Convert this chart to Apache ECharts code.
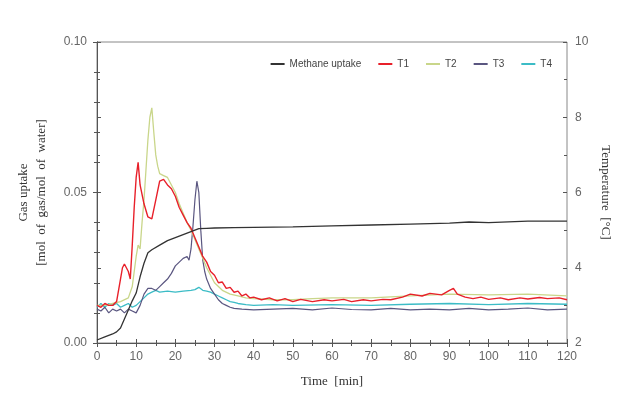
<!DOCTYPE html>
<html><head><meta charset="utf-8">
<script src="https://cdn.jsdelivr.net/npm/echarts@6/dist/echarts.min.js"></script>
<style>html,body{margin:0;padding:0;background:#fff}#c{width:621px;height:398px}</style>
</head><body><div id="c"></div>
<script>
var methaneT = [0,2,4,5,6,7,8,9,10,11,12,13,14,16,18,20,22,24,26,28,30,35,40,50,60,70,80,90,95,100,110,120];
var methaneV = [0.001,0.002,0.003,0.0037,0.005,0.008,0.011,0.014,0.0166,0.022,0.0265,0.030,0.031,0.0325,0.034,0.035,0.036,0.037,0.038,0.0381,0.0382,0.0383,0.0384,0.0386,0.0389,0.0392,0.0395,0.0398,0.0402,0.040,0.0405,0.0405];

var t1T = [0,1,2,3,4,5,6,6.5,7,7.5,8,8.5,9,9.5,10,10.5,11,11.5,12,13,14,15,16,17,18,19,20,21,22,23,24,25,26,27,28,29,30,31,32,33,34,35,36,37,38,39,40,42,44,46,48,50,52,55,58,60,63,65,68,70,73,75,78,80,83,85,88,90,91,92,94,96,98,100,103,105,108,110,113,115,118,120];
var t1V = [3.0,2.95,3.05,3.0,3.0,3.1,3.7,4.0,4.1,4.0,3.9,3.7,4.6,5.6,6.4,6.8,6.2,6.2,5.7,5.35,5.3,5.8,6.3,6.35,6.2,6.1,5.9,5.6,5.4,5.2,5.05,4.8,4.55,4.3,4.15,3.9,3.8,3.6,3.62,3.45,3.48,3.35,3.38,3.25,3.3,3.2,3.22,3.15,3.2,3.12,3.18,3.1,3.16,3.1,3.15,3.12,3.16,3.1,3.15,3.12,3.16,3.15,3.22,3.3,3.25,3.32,3.28,3.4,3.45,3.3,3.22,3.18,3.22,3.16,3.2,3.15,3.2,3.17,3.21,3.18,3.2,3.15];

var t2T = [0,2,4,6,8,9,10,10.5,11,11.5,12,12.5,13,13.5,14,14.5,15,15.5,16,17,18,19,20,21,22,23,24,25,26,27,28,29,30,32,34,36,38,40,45,50,55,60,70,80,90,100,110,120];
var t2V = [3.0,3.0,3.05,3.1,3.2,3.5,4.3,4.6,4.5,5.2,5.8,6.6,7.4,8.0,8.25,7.6,7.0,6.7,6.5,6.45,6.4,6.2,6.0,5.7,5.45,5.2,5.0,4.75,4.5,4.25,4.0,3.8,3.6,3.4,3.3,3.25,3.2,3.18,3.15,3.15,3.18,3.2,3.2,3.25,3.3,3.28,3.3,3.25];

var t3T = [0,1,2,3,4,5,6,7,8,9,10,11,12,13,14,15,16,17,18,19,20,21,22,23,23.5,24,24.5,25,25.5,26,26.5,27,27.5,28,29,30,31,32,33,34,35,37,40,45,50,55,60,65,70,75,80,85,90,95,100,105,110,115,120];
var t3V = [2.9,2.85,2.95,2.8,2.9,2.85,2.9,2.8,2.9,2.85,2.8,3.0,3.3,3.45,3.45,3.4,3.5,3.6,3.7,3.85,4.05,4.15,4.25,4.3,4.2,4.5,5.1,5.8,6.3,6.0,5.0,4.2,3.9,3.7,3.45,3.3,3.15,3.05,3.0,2.95,2.92,2.9,2.88,2.9,2.92,2.88,2.93,2.89,2.88,2.92,2.88,2.9,2.88,2.92,2.88,2.9,2.93,2.88,2.9];

var t4T = [0,1,2,3,4,5,6,7,8,9,10,11,12,13,14,15,16,18,20,22,24,25,26,27,28,29,30,31,32,33,34,35,36,38,40,45,50,60,70,80,90,100,110,120];
var t4V = [2.95,3.05,2.95,3.05,3.0,3.05,2.95,3.0,3.05,2.95,3.0,3.1,3.2,3.3,3.35,3.4,3.35,3.38,3.35,3.38,3.4,3.42,3.48,3.4,3.38,3.35,3.3,3.25,3.2,3.15,3.1,3.08,3.05,3.02,3.0,3.02,3.0,3.02,3.0,3.03,3.05,3.02,3.05,3.03];

var xTicks = {min:0, max:120, interval:10};
var leftTicks = {min:0, max:0.1, interval:0.05};
var rightTicks = {min:2, max:10, interval:2};

function pairs(t, v){ return t.map(function(x,i){ return [x, v[i]]; }); }

var chart = echarts.init(document.getElementById('c'));
var axisLineStyle = {color:'#555', width:1};
var lbl = {color:'#666', fontSize:12, fontFamily:'Liberation Sans, Arial, sans-serif'};
var nameStyle = {color:'#333', fontSize:13, fontFamily:'Liberation Serif, Times New Roman, serif'};
chart.setOption({
  animation:false,
  grid:{left:97, right:54, top:42, bottom:55, show:true, borderColor:'#888', borderWidth:1},
  legend:{
    right:64, top:54, itemWidth:14, itemHeight:2, itemGap:17, icon:'rect',
    textStyle:{color:'#444', fontSize:10, fontFamily:'Liberation Sans, Arial, sans-serif'},
    data:['Methane uptake','T1','T2','T3','T4']
  },
  xAxis:[{
    type:'value', min:xTicks.min, max:xTicks.max, interval:xTicks.interval,
    name:'Time  [min]', nameLocation:'middle', nameGap:32, nameTextStyle:nameStyle,
    axisLine:{lineStyle:axisLineStyle}, axisTick:{length:4, lineStyle:{color:'#555'}},
    minorTick:{show:true, splitNumber:2, length:3, lineStyle:{color:'#555'}},
    axisLabel:Object.assign({margin:8}, lbl), splitLine:{show:false}
  },{
    type:'value', position:'bottom', min:xTicks.min, max:xTicks.max, interval:xTicks.interval,
    axisLine:{show:false}, axisTick:{inside:true, length:4, lineStyle:{color:'#555'}},
    minorTick:{show:true, splitNumber:2, length:3, lineStyle:{color:'#555'}},
    axisLabel:{show:false}, splitLine:{show:false}
  }],
  yAxis:[{
    type:'value', position:'left', min:leftTicks.min, max:leftTicks.max, interval:leftTicks.interval,
    name:'Gas uptake\n[mol  of  gas/mol  of  water]', nameLocation:'middle', nameGap:46, nameRotate:90,
    nameTextStyle:Object.assign({lineHeight:18}, nameStyle),
    axisLine:{show:true, lineStyle:axisLineStyle}, axisTick:{show:true, length:4, lineStyle:{color:'#555'}},
    minorTick:{show:true, splitNumber:5, length:3, lineStyle:{color:'#555'}},
    axisLabel:Object.assign({margin:10, formatter:function(v){return v.toFixed(2);}}, lbl), splitLine:{show:false}
  },{
    type:'value', position:'right', min:rightTicks.min, max:rightTicks.max, interval:rightTicks.interval,
    name:'Temperature  [°C]', nameLocation:'middle', nameGap:28, nameRotate:-90, nameTextStyle:nameStyle,
    axisLine:{show:true, lineStyle:axisLineStyle}, axisTick:{show:true, length:4, lineStyle:{color:'#555'}},
    minorTick:{show:true, splitNumber:2, length:3, lineStyle:{color:'#555'}},
    axisLabel:Object.assign({margin:8}, lbl), splitLine:{show:false}
  },{
    type:'value', position:'left', min:leftTicks.min, max:leftTicks.max, interval:leftTicks.interval,
    axisLine:{show:false}, axisTick:{show:true, inside:true, length:4, lineStyle:{color:'#555'}},
    minorTick:{show:true, splitNumber:5, length:3, lineStyle:{color:'#555'}},
    axisLabel:{show:false}, splitLine:{show:false}
  },{
    type:'value', position:'right', min:rightTicks.min, max:rightTicks.max, interval:rightTicks.interval,
    axisLine:{show:false}, axisTick:{show:true, inside:true, length:4, lineStyle:{color:'#555'}},
    minorTick:{show:true, splitNumber:2, length:3, lineStyle:{color:'#555'}},
    axisLabel:{show:false}, splitLine:{show:false}
  }],
  series:[
    {name:'T4', type:'line', yAxisIndex:1, symbol:'none', data:pairs(t4T,t4V), lineStyle:{color:'#3cbcc6', width:1.3}, itemStyle:{color:'#3cbcc6'}},
    {name:'T3', type:'line', yAxisIndex:1, symbol:'none', data:pairs(t3T,t3V), lineStyle:{color:'#5a5680', width:1.2}, itemStyle:{color:'#5a5680'}},
    {name:'T2', type:'line', yAxisIndex:1, symbol:'none', data:pairs(t2T,t2V), lineStyle:{color:'#c9d68a', width:1.3}, itemStyle:{color:'#c9d68a'}},
    {name:'T1', type:'line', yAxisIndex:1, symbol:'none', data:pairs(t1T,t1V), lineStyle:{color:'#e8202a', width:1.4}, itemStyle:{color:'#e8202a'}},
    {name:'Methane uptake', type:'line', yAxisIndex:0, symbol:'none', data:pairs(methaneT,methaneV), lineStyle:{color:'#333', width:1.3}, itemStyle:{color:'#333'}}
  ]
});
</script></body></html>
